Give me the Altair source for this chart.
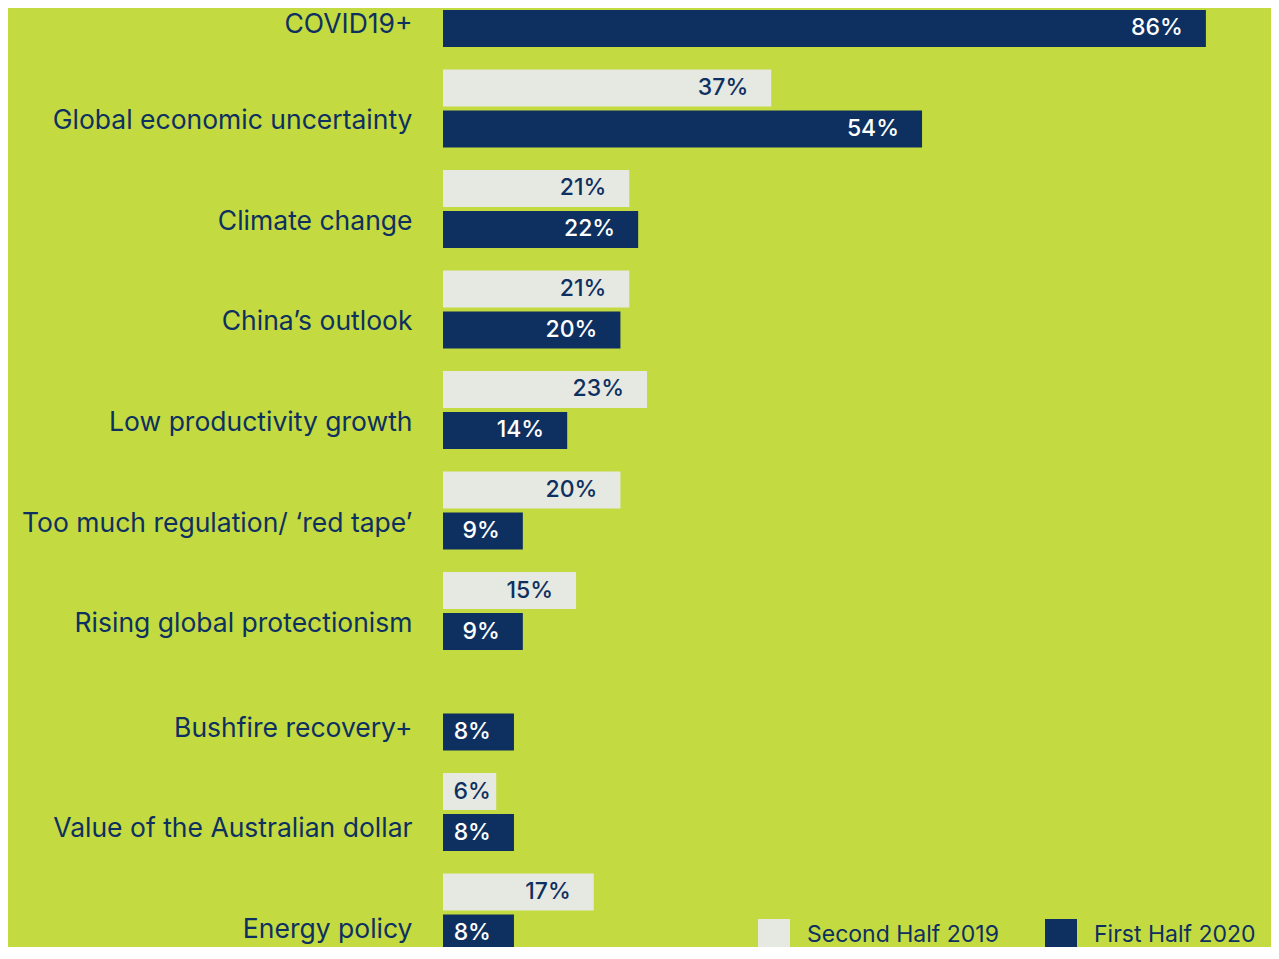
import altair as alt
import pandas as pd

categories = [
    "COVID19+",
    "Global economic uncertainty",
    "Climate change",
    "China\u2019s outlook",
    "Low productivity growth",
    "Too much regulation/ \u2018red tape\u2019",
    "Rising global protectionism",
    "Bushfire recovery+",
    "Value of the Australian dollar",
    "Energy policy",
]
series = ["Second Half 2019", "First Half 2020"]
values_2019 = [None, 37, 21, 21, 23, 20, 15, None, 6, 17]
values_2020 = [86, 54, 22, 20, 14, 9, 9, 8, 8, 8]

GREEN = "#c3da41"
NAVY = "#0e3060"
GREY = "#e6e8e2"
FONT = "Inter"

rows = []
for cat, v19, v20 in zip(categories, values_2019, values_2020):
    if v19 is not None:
        rows.append({"category": cat, "series": series[0], "value": v19})
    if v20 is not None:
        rows.append({"category": cat, "series": series[1], "value": v20})
df = pd.DataFrame(rows)
df["label"] = df["value"].astype(int).astype(str) + "%"

label_offset = {
    "condition": {
        "test": "indexof(['COVID19+', 'Bushfire recovery+', 'Value of the Australian dollar', 'Energy policy'], datum.value) >= 0",
        "value": 17,
    },
    "value": 13,
}

y_enc = alt.Y(
    "category:N",
    sort=categories,
    scale=alt.Scale(range=[-50.25, 954.75], paddingInner=0.2239, paddingOuter=0.11194),
    axis=alt.Axis(
        title=None, ticks=False, domain=False, grid=False,
        labelFont=FONT, labelFontSize=26.5, labelColor=NAVY,
        labelPadding=31, labelOffset=label_offset, labelLimit=600,
        labelFontWeight=400,
    ),
)
yoff_enc = alt.YOffset(
    "series:N", sort=series,
    scale=alt.Scale(domain=series, paddingInner=0.0976, paddingOuter=0),
)
x_scale = alt.Scale(domain=[0, 93], nice=False, zero=True)

base = alt.Chart(df)

bars = base.mark_bar().encode(
    y=y_enc,
    yOffset=yoff_enc,
    x=alt.X("value:Q", scale=x_scale, axis=None),
    color=alt.Color(
        "series:N", sort=series,
        scale=alt.Scale(domain=series, range=[GREY, NAVY]),
        legend=alt.Legend(
            title=None, orient="none", legendX=315, legendY=911,
            direction="horizontal", symbolType="square", symbolSize=1024,
            symbolStrokeWidth=0, symbolOpacity=1,
            labelFont=FONT, labelFontSize=23, labelColor=NAVY, labelFontWeight=400,
            labelOffset=17, columnPadding=46, padding=0, labelLimit=400,
        ),
    ),
)

texts = base.transform_calculate(
    pos="max(datum.value, 8)"
).mark_text(
    align="right", baseline="middle", dx=-23, fontSize=23, font=FONT, fontWeight=500
).encode(
    y=y_enc,
    yOffset=yoff_enc,
    x=alt.X("pos:Q", scale=x_scale, axis=None),
    text="label:N",
    color=alt.condition(
        alt.datum.series == "First Half 2020", alt.value("white"), alt.value(NAVY)
    ),
)

chart = (
    alt.layer(bars, texts)
    .properties(
        width=825, height=939,
        padding={"left": 435, "top": 0, "right": 3, "bottom": 0},
        autosize=alt.AutoSizeParams(type="none"),
    )
    .configure(background=GREEN)
    .configure_view(stroke=None)
)

chart.save("out.html", embed_options={"renderer": "svg", "actions": False})
